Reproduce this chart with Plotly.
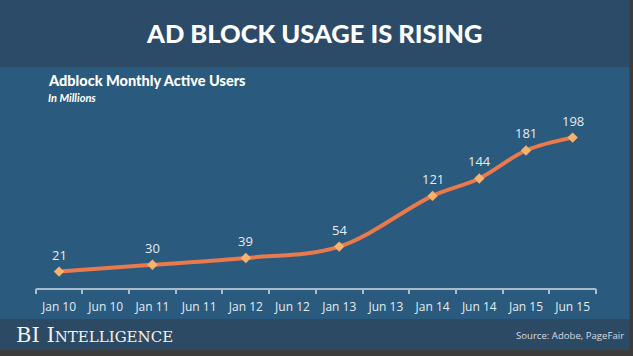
import plotly.graph_objects as go

# ---- data ----
axis_labels = ["Jan 10", "Jun 10", "Jan 11", "Jun 11", "Jan 12", "Jun 12",
               "Jan 13", "Jun 13", "Jan 14", "Jun 14", "Jan 15", "Jun 15"]
point_dates = ["Jan 10", "Jan 11", "Jan 12", "Jan 13", "Jan 14", "Jun 14", "Jan 15", "Jun 15"]
users_millions = [21, 30, 39, 54, 121, 144, 181, 198]

title_text = "AD BLOCK USAGE IS RISING"
chart_title = "Adblock Monthly Active Users"
chart_subtitle = "In Millions"
brand_text = "BI Intelligence"
source_text = "Source: Adobe, PageFair"

W, H = 633, 356
TITLE_BG = "#2c4b68"
CHART_BG = "#2a5a7e"
FOOT_BG = "#2d4a64"
BORDER = "#3c3c3c"
LINE = "#ea794b"
MARK = "#f8b26c"
TXT = "#e4ecf2"

def px(x):
    return x / W

def py(y):
    return 1 - y / H

fig = go.Figure()
fig.add_trace(go.Scatter(
    x=point_dates, y=users_millions, mode="lines+markers",
    line=dict(color=LINE, width=4, shape="spline", smoothing=1),
    marker=dict(symbol="diamond", size=8, color=MARK, line=dict(width=0)),
    hoverinfo="skip", showlegend=False,
))

annotations = []
for d, v in zip(point_dates, users_millions):
    annotations.append(dict(x=d, y=v, xref="x", yref="y", text=str(v), showarrow=False,
                            yshift=17, font=dict(family="Open Sans", size=13, color=TXT)))

annotations += [
    dict(x=px(314.5), y=py(33.5), xref="paper", yref="paper", text=title_text, showarrow=False,
         xanchor="center", yanchor="middle",
         font=dict(family="Lato", size=25.5, color="#ffffff", weight=900)),
    dict(x=px(46), y=py(80.5), xref="paper", yref="paper", text=chart_title, showarrow=False,
         xanchor="left", yanchor="middle",
         font=dict(family="Lato", size=14.5, color="#ffffff", weight=900)),
    dict(x=px(46), y=py(97.5), xref="paper", yref="paper", text="<i>" + chart_subtitle + "</i>",
         showarrow=False, xanchor="left", yanchor="middle",
         font=dict(family="Lato", size=11, color="#ffffff", weight=700)),
    dict(x=px(14), y=py(335), xref="paper", yref="paper", text=brand_text, showarrow=False,
         xanchor="left", yanchor="middle",
         font=dict(family="DejaVu Serif", size=21, color="#f2f2f2", variant="small-caps")),
    dict(x=px(626), y=py(335), xref="paper", yref="paper", text=source_text, showarrow=False,
         xanchor="right", yanchor="middle",
         font=dict(family="Open Sans", size=9.6, color="#d4dde5")),
]

shapes = [
    dict(type="rect", xref="paper", yref="paper", x0=0, x1=px(629.5), y0=py(0), y1=py(66.7),
         fillcolor=TITLE_BG, line=dict(width=0), layer="below"),
    dict(type="rect", xref="paper", yref="paper", x0=0, x1=px(629.5), y0=py(66.7), y1=py(319.5),
         fillcolor=CHART_BG, line=dict(width=0), layer="below"),
    dict(type="rect", xref="paper", yref="paper", x0=0, x1=px(629.5), y0=py(319.5), y1=py(350),
         fillcolor=FOOT_BG, line=dict(width=0), layer="below"),
]

y_bottom_px = 287.5
y_top_px = 110.0
scale = 0.757  # px per million
fig.update_layout(
    width=W, height=H, margin=dict(l=0, r=0, t=0, b=0),
    paper_bgcolor=BORDER, plot_bgcolor="rgba(0,0,0,0)",
    shapes=shapes, annotations=annotations,
    xaxis=dict(domain=[px(35.7), px(596)], type="category",
               categoryorder="array", categoryarray=axis_labels,
               range=[-0.5, len(axis_labels) - 0.5],
               showline=True, linecolor="#a8bccb", linewidth=1.5,
               ticks="outside", tickson="boundaries", ticklen=5, tickcolor="#a8bccb", tickwidth=1.5,
               showgrid=False, zeroline=False, ticklabelstandoff=7,
               tickfont=dict(family="Open Sans", size=12, color=TXT), fixedrange=True),
    yaxis=dict(domain=[py(y_bottom_px), py(y_top_px)],
               range=[0, (y_bottom_px - y_top_px) / scale],
               visible=False, showgrid=False, zeroline=False, fixedrange=True),
)

fig.write_html("out.html", config={"displayModeBar": False},
               post_script="document.body.style.margin='0';document.body.style.overflow='hidden';")
